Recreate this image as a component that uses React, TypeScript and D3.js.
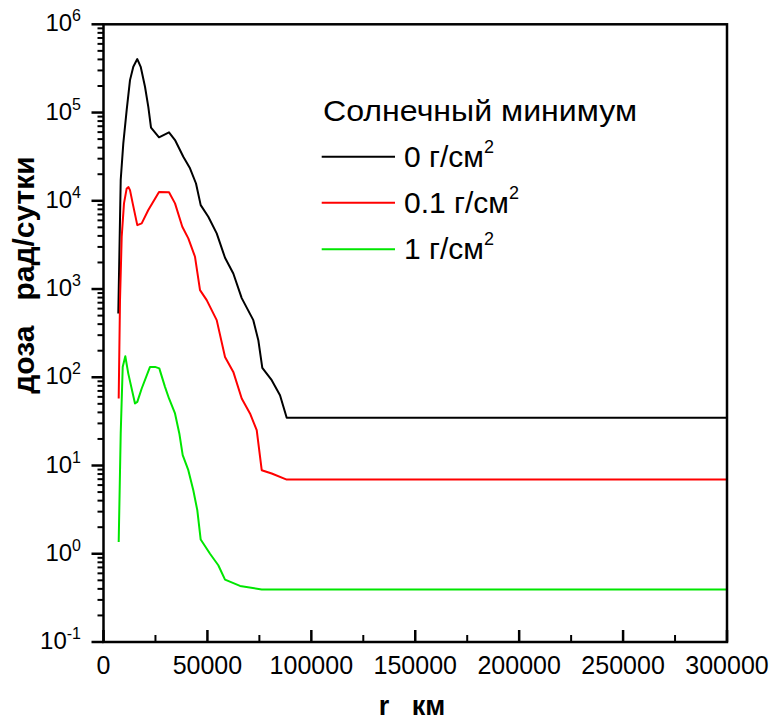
import React from "react";
import * as d3 from "d3";

const rBlack = [7120, 8280, 9530, 11160, 12750, 14340, 16260, 17900, 19970, 21560, 22860, 26710, 31520, 34410, 38400, 41620, 44510, 46770, 50430, 54470, 58470, 62460, 66500, 72080, 74490, 76410, 80940, 84930, 88150, 300000];
const doseBlack = [529, 17200, 44800, 107000, 233000, 330000, 404000, 330000, 196000, 116000, 67300, 52400, 59700, 48800, 31500, 23300, 15700, 8930, 6590, 4270, 2260, 1500, 789, 444, 263, 128, 92.7, 62.7, 34.7, 34.7];

const rRed = [7310, 7940, 8760, 9860, 11160, 12030, 12750, 14050, 16260, 18380, 21560, 26710, 31520, 34410, 37920, 40810, 44030, 46440, 49660, 54470, 58470, 62460, 66500, 70490, 73720, 76130, 80940, 88150, 300000];
const doseRed = [57.5, 748, 3910, 9350, 13800, 14300, 13200, 9350, 5300, 5540, 7850, 12600, 12500, 9350, 5070, 3750, 2320, 972, 748, 444, 170, 115, 57.5, 38.9, 25.1, 8.85, 8.11, 6.93, 6.93];

const rGreen = [7310, 8280, 9240, 10490, 11930, 15160, 16260, 18380, 22380, 24780, 26850, 29590, 31520, 34410, 36480, 38110, 40810, 43210, 45140, 46770, 51250, 55240, 58470, 65690, 76130, 300000];
const doseGreen = [1.36, 23, 131, 173, 110, 50.5, 52.6, 74.6, 131, 131, 126, 77.9, 57.5, 38.9, 23.1, 13.1, 8.85, 5.25, 3.11, 1.45, 1.0, 0.741, 0.51, 0.432, 0.393, 0.393];

const seriesNames = ["0 г/см", "0.1 г/см", "1 г/см"];
const seriesColors = ["#000000", "#ff0000", "#00e600"];
const xTicks = [0, 50000, 100000, 150000, 200000, 250000, 300000];
const yExponents = [-1, 0, 1, 2, 3, 4, 5, 6];
const legendTitle = "Солнечный минимум";
const xTitle = "r   км";
const yTitle = "доза   рад/сутки";

const W = 771;
const H = 720;
const FONT = "'Liberation Sans', Arial, sans-serif";

export default function App() {
  const x = d3.scaleLinear().domain([0, 300000]).range([103.5, 727]);
  const y = d3.scaleLog().domain([0.1, 1e6]).range([642, 24.3]);
  const [x0, x1] = x.range();
  const [y0, y1] = y.range();

  const series = [
    { r: rBlack, d: doseBlack },
    { r: rRed, d: doseRed },
    { r: rGreen, d: doseGreen },
  ];
  const line = d3
    .line<[number, number]>()
    .x((p) => x(p[0]))
    .y((p) => y(p[1]));

  const minorY: number[] = [];
  for (let e = -1; e < 6; e++) {
    for (let m = 2; m <= 9; m++) minorY.push(m * Math.pow(10, e));
  }
  const minorX: number[] = [];
  for (let v = 25000; v < 300000; v += 50000) minorX.push(v);

  const legendY = [156.7, 202.7, 249.3];

  return (
    <svg
      width={W}
      height={H}
      style={{ position: "absolute", left: 0, top: 0, background: "#fff" }}
      fontFamily={FONT}
    >
      <rect x={0} y={0} width={W} height={H} fill="#fff" />
      {series.map((s, i) => (
        <path
          key={i}
          d={line(s.r.map((r, j) => [r, s.d[j]] as [number, number])) || ""}
          fill="none"
          stroke={seriesColors[i]}
          strokeWidth={2}
          strokeLinejoin="round"
        />
      ))}
      <rect x={x0} y={y1} width={x1 - x0} height={y0 - y1} fill="none" stroke="#000" strokeWidth={2.5} />
      {yExponents.map((e) => (
        <line key={"ym" + e} x1={x0 - 12} x2={x0} y1={y(Math.pow(10, e))} y2={y(Math.pow(10, e))} stroke="#000" strokeWidth={2.5} />
      ))}
      {minorY.map((v, i) => (
        <line key={"yn" + i} x1={x0 - 6} x2={x0} y1={y(v)} y2={y(v)} stroke="#000" strokeWidth={2} />
      ))}
      {yExponents.map((e) => (
        <text key={"yl" + e} x={81} y={y(Math.pow(10, e)) + 7} textAnchor="end" fontSize={24} fill="#000">
          10
          <tspan dy={-10} fontSize={16}>
            {e}
          </tspan>
        </text>
      ))}
      {xTicks.map((v) => (
        <line key={"xm" + v} x1={x(v)} x2={x(v)} y1={y0} y2={y0 - 12} stroke="#000" strokeWidth={2.5} />
      ))}
      {minorX.map((v) => (
        <line key={"xn" + v} x1={x(v)} x2={x(v)} y1={y0} y2={y0 - 7} stroke="#000" strokeWidth={2} />
      ))}
      {xTicks.map((v) => (
        <text key={"xl" + v} x={x(v)} y={674} textAnchor="middle" fontSize={25} fill="#000">
          {String(v)}
        </text>
      ))}
      <text x={412} y={715} textAnchor="middle" fontSize={27} fontWeight="bold" fill="#000" style={{ whiteSpace: "pre" }}>
        {xTitle}
      </text>
      <text
        transform={`translate(34,275) rotate(-90)`}
        textAnchor="middle"
        fontSize={30}
        fontWeight="bold"
        fill="#000"
        style={{ whiteSpace: "pre" }}
      >
        {yTitle}
      </text>
      <text x={323} y={121} fontSize={30} fill="#000" textLength={314} lengthAdjust="spacingAndGlyphs">
        {legendTitle}
      </text>
      {seriesNames.map((n, i) => (
        <g key={"lg" + i}>
          <line x1={321.7} x2={395} y1={legendY[i]} y2={legendY[i]} stroke={seriesColors[i]} strokeWidth={2} />
          <text x={404} y={legendY[i] + 10} fontSize={30} fill="#000">
            {n}
            <tspan dy={-14} fontSize={18}>
              2
            </tspan>
          </text>
        </g>
      ))}
    </svg>
  );
}
